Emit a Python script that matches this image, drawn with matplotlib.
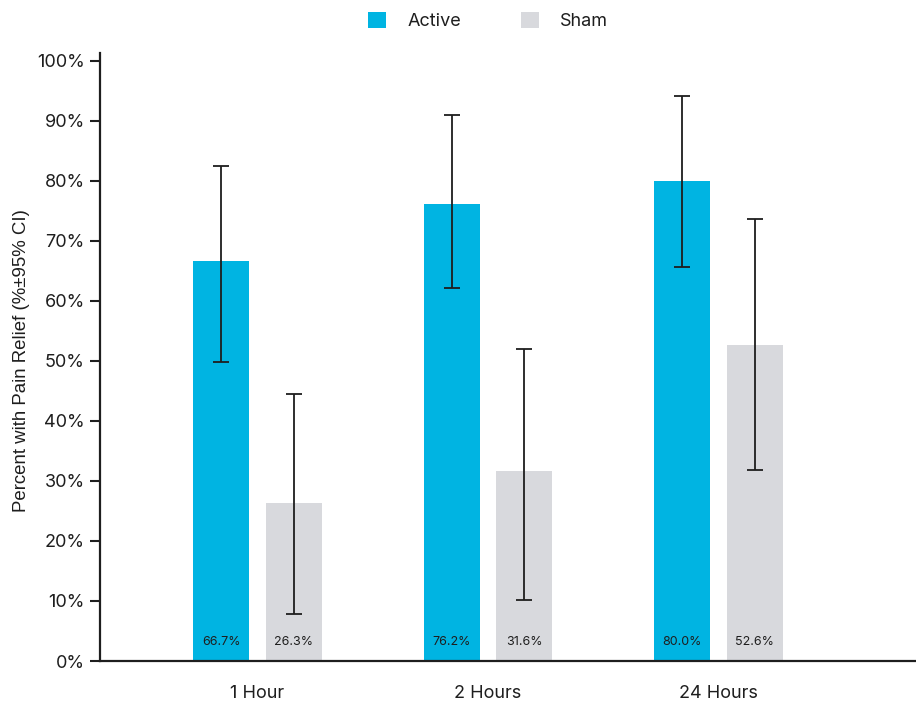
import matplotlib
matplotlib.use("Agg")
import matplotlib.pyplot as plt
import numpy as np
from matplotlib.patches import Patch

categories = ["1 Hour", "2 Hours", "24 Hours"]
active = [66.7, 76.2, 80.0]
sham = [26.3, 31.6, 52.6]
active_lo = [49.8, 62.1, 65.6]
active_hi = [82.4, 90.9, 94.2]
sham_lo = [7.8, 10.1, 31.8]
sham_hi = [44.5, 52.0, 73.6]
yticks = [0, 10, 20, 30, 40, 50, 60, 70, 80, 90, 100]

c_active = "#00B4E2"
c_sham = "#D8D9DD"
txt = "#1E1E1E"
font = "Inter"

fig = plt.figure(figsize=(9.16, 7.01), dpi=100)
ax = fig.add_axes([100/916, 1-661/701, 1-100/916, (661-53)/701])

x = np.arange(len(categories))
w = 0.243
off = 0.158
xa = x - off
xs = x + off

ax.bar(xa, active, width=w, color=c_active, zorder=2)
ax.bar(xs, sham, width=w, color=c_sham, zorder=2)

a_err = [np.array(active) - np.array(active_lo), np.array(active_hi) - np.array(active)]
s_err = [np.array(sham) - np.array(sham_lo), np.array(sham_hi) - np.array(sham)]
ekw = dict(fmt="none", ecolor=txt, elinewidth=1.3, capsize=6, capthick=1.3, zorder=3)
ax.errorbar(xa, active, yerr=a_err, **ekw)
ax.errorbar(xs, sham, yerr=s_err, **ekw)

for xi, v in zip(xa, active):
    ax.text(xi, 3.2, f"{v:.1f}%", ha="center", va="center", fontsize=9, color=txt, family=font, zorder=4)
for xi, v in zip(xs, sham):
    ax.text(xi, 3.2, f"{v:.1f}%", ha="center", va="center", fontsize=9, color=txt, family=font, zorder=4)

ax.set_xlim(-0.683, 2.857)
ax.set_ylim(0, 101.3)
ax.set_yticks(yticks)
ax.set_yticklabels([f"{t}%" for t in yticks], family=font, fontsize=13, color=txt)
ax.set_xticks(x)
ax.set_xticklabels(categories, family=font, fontsize=13, color=txt)
ax.tick_params(axis="x", length=0, pad=17)
ax.tick_params(axis="y", length=7, width=1.5, direction="out", pad=4, color=txt)

for s in ["top", "right"]:
    ax.spines[s].set_visible(False)
for s in ["left", "bottom"]:
    ax.spines[s].set_linewidth(1.6)
    ax.spines[s].set_color(txt)

ax.set_ylabel("Percent with Pain Relief (%±95% CI)", family="Liberation Sans", fontsize=13.4, color=txt)
ax.yaxis.set_label_coords((30-100)/816, (661-361)/608)

handles = [Patch(facecolor=c_active, label="Active"), Patch(facecolor=c_sham, label="Sham")]
leg = fig.legend(handles=handles, loc="center", bbox_to_anchor=(488/916, 1-21/701), ncol=2,
                 frameon=False, handlelength=1.0, handleheight=1.0, handletextpad=1.2,
                 columnspacing=3.3, prop={"family": font, "size": 13})
for t in leg.get_texts():
    t.set_color(txt)

fig.savefig("out.png", dpi=100)
